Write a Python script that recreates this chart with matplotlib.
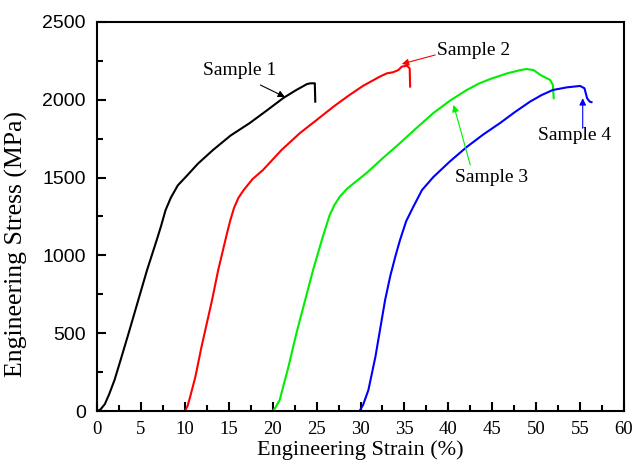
"""Engineering stress-strain curves for four samples."""

import matplotlib

matplotlib.use("Agg")
import matplotlib.pyplot as plt
from matplotlib.ticker import MultipleLocator

# strain (%) / stress (MPa)
s1_strain = [0.0, 0.4, 0.9, 1.4, 2.0, 2.7, 3.6, 4.7, 5.7, 6.8, 7.3, 7.8, 8.4, 9.2, 10.2, 11.5, 13.2,
             15.2, 17.4, 19.3, 21.2, 22.6, 23.9, 24.3, 24.8, 24.85]
s1_stress = [0, 10, 45, 110, 200, 330, 500, 713, 906, 1099, 1190, 1290, 1370, 1450, 1510, 1590, 1677,
             1770, 1851, 1930, 2011, 2060, 2101, 2106, 2106, 1988]

s2_strain = [10.0, 10.3, 10.6, 11.2, 11.9, 13.1, 13.8, 14.8, 15.2, 15.6, 16.1, 16.7, 17.7, 18.9,
             21.0, 23.1, 25.0, 26.9, 28.6, 30.3, 32.2, 33.0, 33.7, 34.3, 34.7, 35.3, 35.6, 35.65]
s2_stress = [0, 30, 90, 220, 413, 713, 906, 1142, 1230, 1305, 1370, 1420, 1490, 1549,
             1677, 1786, 1870, 1955, 2025, 2090, 2149, 2170, 2177, 2191, 2213, 2219, 2202, 2085]

s3_strain = [20.0, 20.3, 20.8, 21.8, 22.7, 23.7, 24.6, 25.6, 26.1, 26.5, 27.0, 27.6, 28.5, 29.6,
             30.7, 32.6, 34.5, 36.4, 38.3, 40.2, 42.1, 43.5, 44.8, 46.7, 48.2, 48.9, 49.7, 50.5,
             51.6, 51.9, 52.0]
s3_stress = [0, 20, 71, 285, 499, 713, 906, 1099, 1190, 1260, 1320, 1375, 1430, 1480,
             1530, 1628, 1722, 1820, 1915, 1995, 2063, 2105, 2134, 2170, 2191, 2198, 2191, 2159,
             2127, 2095, 2010]

s4_strain = [29.9, 30.3, 30.9, 31.7, 32.8, 33.4, 34.0, 34.5, 35.2, 36.0, 37.0, 38.3, 40.2, 42.1,
             44.0, 45.9, 47.6, 49.3, 50.6, 51.9, 53.5, 55.0, 55.5, 55.8, 56.1, 56.3]
s4_stress = [0, 40, 135, 349, 713, 870, 1000, 1099, 1220, 1311, 1420, 1504, 1605, 1697,
             1778, 1851, 1922, 1988, 2030, 2063, 2080, 2089, 2074, 2010, 1988, 1985]

labels = ["Sample 1", "Sample 2", "Sample 3", "Sample 4"]
colors = ["black", "#ff0000", "#00ee00", "#0000ff"]
# label centre, arrow tail, arrow head (data coords)
label_pos = [(16.2, 2188), (42.9, 2317), (44.9, 1501), (54.4, 1771)]
arrow_tail = [(18.6, 2095), (38.5, 2288), (42.5, 1581), (55.3, 1817)]
arrow_head = [(21.4, 2018), (34.7, 2230), (40.6, 1967), (55.3, 2010)]

serif = ["Liberation Serif", "DejaVu Serif"]
sans = ["Liberation Sans", "DejaVu Sans"]

fig = plt.figure(figsize=(6.34, 4.65), dpi=100)
ax = fig.add_axes([97 / 634, 1 - 411 / 465, 527 / 634, 389 / 465])

curves = [(s1_strain, s1_stress), (s2_strain, s2_stress), (s3_strain, s3_stress), (s4_strain, s4_stress)]
for (x, y), c in zip(curves, colors):
    ax.plot(x, y, color=c, lw=1.5, solid_joinstyle="round")

for lab, c, pos, tail, head in zip(labels, colors, label_pos, arrow_tail, arrow_head):
    ax.text(pos[0], pos[1], lab, ha="center", va="center", fontsize=14, family=serif)
    ax.annotate("", xy=head, xytext=tail,
                arrowprops=dict(arrowstyle="-|>", color=c, lw=0.8, mutation_scale=10,
                                shrinkA=0, shrinkB=0))

ax.set_xlim(0, 60)
ax.set_ylim(0, 2500)
ax.xaxis.set_major_locator(MultipleLocator(5))
ax.xaxis.set_minor_locator(MultipleLocator(2.5))
ax.yaxis.set_major_locator(MultipleLocator(500))
ax.yaxis.set_minor_locator(MultipleLocator(250))
ax.tick_params(which="both", direction="in", width=1.5, top=False, right=False)
ax.tick_params(which="major", length=6.5)
ax.tick_params(which="minor", length=4.3)
ax.tick_params(axis="x", pad=7)
ax.tick_params(axis="y", pad=8)
for t in ax.get_xticklabels():
    t.set_fontfamily(serif)
    t.set_fontsize(13.5)
for t in ax.get_yticklabels():
    t.set_fontfamily(sans)
    t.set_fontsize(14)
for sp in ax.spines.values():
    sp.set_linewidth(1.5)

ax.set_xlabel("Engineering Strain (%)", fontsize=16, family=serif, labelpad=2)
ax.set_ylabel("Engineering Stress (MPa)", fontsize=18.5, family=serif, labelpad=6)
ax.yaxis.set_label_coords(-0.13, 0.43)

fig.savefig("out.png", dpi=100)
